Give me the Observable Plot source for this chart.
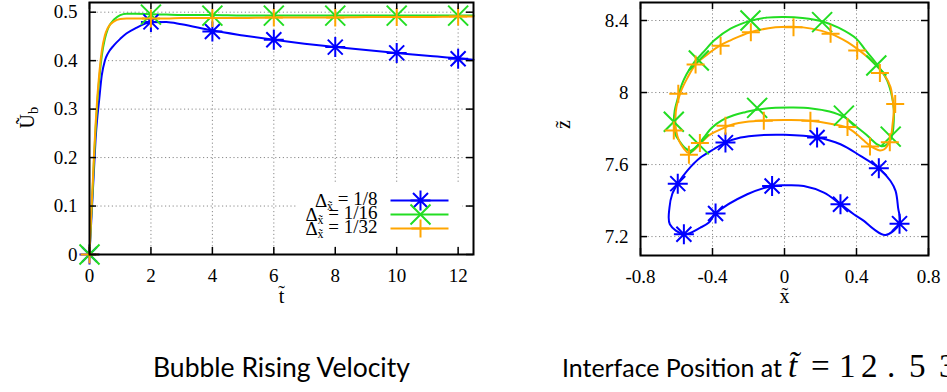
<!DOCTYPE html>
<html><head><meta charset="utf-8">
<script src="https://cdn.jsdelivr.net/npm/d3@7"></script>
<script src="https://cdn.jsdelivr.net/npm/@observablehq/plot@0.6"></script>
<style>
html,body{margin:0;padding:0;background:#fff;width:947px;height:392px;overflow:hidden;}
#wrap{position:relative;width:947px;height:392px;overflow:hidden;background:#fff;}
.abs{position:absolute;}
</style></head><body><div id="wrap"></div>
<script>
// ---------------- Left chart: bubble rising velocity ----------------
const seriesLabels = ["1/8", "1/16", "1/32"];
const tCurve = [0,0.05,0.1,0.15,0.2,0.25,0.3,0.4,0.5,0.6,0.8,1.0,1.2,1.5,2,2.5,3,4,5,6,7,8,9,10,11,12,12.5];
const u8  = [0,0.06,0.12,0.18,0.24,0.28,0.31,0.37,0.40,0.415,0.432,0.445,0.456,0.467,0.479,0.48,0.475,0.462,0.452,0.443,0.435,0.428,0.422,0.416,0.41,0.405,0.402];
const u16 = [0,0.07,0.13,0.2,0.26,0.31,0.35,0.41,0.445,0.466,0.485,0.494,0.497,0.497,0.496,0.495,0.494,0.494,0.493,0.493,0.493,0.493,0.493,0.493,0.493,0.493,0.493];
const u32 = [0,0.075,0.14,0.21,0.27,0.32,0.36,0.42,0.452,0.468,0.481,0.486,0.487,0.487,0.487,0.487,0.488,0.488,0.488,0.489,0.489,0.489,0.49,0.49,0.49,0.491,0.491];
const tMark = [0,2,4,6,8,10,12];
const u8Mark  = [0,0.48,0.46,0.443,0.428,0.416,0.404];
const u16Mark = [0,0.495,0.493,0.493,0.493,0.493,0.493];
const u32Mark = [0,0.487,0.488,0.489,0.489,0.49,0.491];
const tTicks = [0,2,4,6,8,10,12];
const uTicks = [0,0.1,0.2,0.3,0.4,0.5];

// ---------------- Right chart: interface position ----------------
const xTicks = [-0.8,-0.4,0,0.4,0.8];
const zTicks = [7.2,7.6,8,8.4];
const x8 = [-0.559,-0.637,-0.639,-0.624,-0.593,-0.541,-0.467,-0.393,-0.328,-0.244,-0.133,0,0.181,0.311,0.422,0.524,0.589,0.617,0.631,0.639,0.561,0.496,0.441,0.385,0.311,0.219,0.107,0.006,-0.069,-0.207,-0.383,-0.42,-0.467];
const z8 = [7.213,7.269,7.361,7.435,7.494,7.565,7.639,7.685,7.722,7.75,7.763,7.765,7.75,7.713,7.648,7.58,7.509,7.454,7.361,7.272,7.209,7.241,7.287,7.324,7.38,7.444,7.481,7.485,7.481,7.435,7.328,7.278,7.25];
const x16 = [0,-0.1,-0.19,-0.3,-0.39,-0.45,-0.5,-0.545,-0.57,-0.595,-0.61,-0.615,-0.605,-0.587,-0.55,-0.522,-0.485,-0.448,-0.402,-0.346,-0.282,-0.218,-0.152,-0.05,0.05,0.15,0.25,0.33,0.4,0.45,0.48,0.51,0.535,0.56,0.585,0.6,0.607,0.607,0.598,0.57,0.54,0.5,0.45,0.4,0.3,0.22,0.1];
const z16 = [8.42,8.416,8.398,8.355,8.29,8.225,8.17,8.1,8.045,7.96,7.9,7.83,7.765,7.735,7.69,7.677,7.704,7.751,7.806,7.847,7.874,7.891,7.905,7.915,7.917,7.912,7.895,7.865,7.81,7.77,7.742,7.715,7.703,7.705,7.73,7.77,7.84,7.91,7.974,8.067,8.12,8.175,8.235,8.298,8.36,8.392,8.414];
const x32 = [0.05,-0.05,-0.19,-0.3,-0.36,-0.43,-0.494,-0.54,-0.578,-0.6,-0.606,-0.602,-0.585,-0.56,-0.535,-0.51,-0.476,-0.42,-0.346,-0.28,-0.218,-0.1,0,0.1,0.2,0.3,0.348,0.4,0.441,0.475,0.5,0.53,0.555,0.575,0.592,0.6,0.607,0.6,0.589,0.56,0.52,0.47,0.417,0.35,0.259,0.15];
const z32 = [8.365,8.362,8.335,8.29,8.26,8.21,8.155,8.08,8.0,7.92,7.86,7.79,7.73,7.69,7.665,7.675,7.706,7.762,7.8,7.825,7.836,7.845,7.847,7.846,7.837,7.818,7.805,7.77,7.733,7.705,7.69,7.678,7.685,7.71,7.76,7.82,7.9,7.97,8.03,8.09,8.14,8.19,8.233,8.28,8.326,8.355];
const xm8 = [-0.559,-0.593,-0.328,0.181,0.524,0.639,0.311,-0.069,-0.383];
const zm8 = [7.213,7.494,7.722,7.75,7.58,7.272,7.38,7.481,7.328];
const xm16 = [-0.615,-0.476,-0.189,0.209,0.51,0.59,0.33,-0.152,-0.476];
const zm16 = [7.838,8.178,8.4,8.391,8.15,7.755,7.872,7.915,7.712];
const xm32 = [-0.59,-0.615,-0.531,-0.47,-0.328,-0.115,0.144,0.35,0.475,0.585,0.615,0.53,0.404,0.256,0.05,-0.187,-0.355,-0.494];
const zm32 = [7.993,7.789,7.655,7.72,7.815,7.844,7.844,7.809,7.7,7.724,7.937,8.108,8.233,8.326,8.362,8.335,8.26,8.155];

// ---------------- styles ----------------
const COLORS = {"1/8": "#0000ff", "1/16": "#22dd22", "1/32": "#ffa500"};
const SERIF = "\"Liberation Serif\", \"DejaVu Serif\", serif";
const GRID = {stroke: "#8a8a8a", strokeOpacity: 1, strokeWidth: 1, strokeDasharray: "1.2,2.6"};

// gnuplot-like point types; r given = half extent
const symPlus = {draw(c, s) {const r = Math.sqrt(s / Math.PI); c.moveTo(-r, 0); c.lineTo(r, 0); c.moveTo(0, -r); c.lineTo(0, r);}};
const symTimes = {draw(c, s) {const r = Math.sqrt(s / Math.PI); c.moveTo(-r, -r); c.lineTo(r, r); c.moveTo(-r, r); c.lineTo(r, -r);}};
const symStar = {draw(c, s) {const r = Math.sqrt(s / Math.PI), d = r * 0.75;
  c.moveTo(-r, 0); c.lineTo(r, 0); c.moveTo(0, -r); c.lineTo(0, r);
  c.moveTo(-d, -d); c.lineTo(d, d); c.moveTo(-d, d); c.lineTo(d, -d);}};
const SYMS = {"1/8": symStar, "1/16": symTimes, "1/32": symPlus};
const SYMR = {"1/8": 10, "1/16": 10, "1/32": 9};

function inwardTicks(xt, yt, W, H, len) {
  return [
    Plot.ruleX(xt, {x: d => d, insetTop: H - len, stroke: "black", strokeWidth: 1.5}),
    Plot.ruleX(xt, {x: d => d, insetBottom: H - len, stroke: "black", strokeWidth: 1.5}),
    Plot.ruleY(yt, {y: d => d, insetRight: W - len, stroke: "black", strokeWidth: 1.5}),
    Plot.ruleY(yt, {y: d => d, insetLeft: W - len, stroke: "black", strokeWidth: 1.5})
  ];
}

const wrap = document.getElementById("wrap");
function place(el, left, top) {el.classList.add("abs"); el.style.left = left + "px"; el.style.top = top + "px"; wrap.appendChild(el); return el;}
function serifAll(svg) {
  d3.select(svg).selectAll("text, tspan").style("font-family", SERIF).style("font-variant", "normal").style("font-variant-numeric", "normal");
  d3.select(svg).selectAll("g").attr("font-family", null).attr("font-variant", null);
}
const STYLE = {fontFamily: SERIF, fontSize: "19px", color: "black", background: "white"};

// ----- left plot -----
const leftCurves = [], leftMarks = [];
const uC = [u8, u16, u32], uM = [u8Mark, u16Mark, u32Mark];
seriesLabels.forEach((s, i) => {
  tCurve.forEach((t, j) => leftCurves.push({s, t, u: uC[i][j]}));
  tMark.forEach((t, j) => leftMarks.push({s, t, u: uM[i][j]}));
});
const L = {w: 480, h: 330, ml: 89, mr: 7, mt: 2, mb: 76};
const leftPlot = Plot.plot({
  width: L.w, height: L.h, marginLeft: L.ml, marginRight: L.mr, marginTop: L.mt, marginBottom: L.mb,
  style: STYLE,
  x: {domain: [0, 12.5]},
  y: {domain: [0, 0.52]},
  marks: [
    Plot.gridX(tTicks.filter(d => d > 0), GRID),
    Plot.gridY(uTicks.filter(d => d > 0), GRID),
    ...seriesLabels.map(s => Plot.line(leftCurves.filter(d => d.s === s), {x: "t", y: "u", stroke: COLORS[s], strokeWidth: 2, curve: "monotone-x"})),
    ...seriesLabels.map(s => Plot.dot(leftMarks.filter(d => d.s === s), {x: "t", y: "u", stroke: COLORS[s], strokeWidth: 2, fill: "none", symbol: SYMS[s], r: SYMR[s]})),
    Plot.axisX({ticks: tTicks, tickSize: 0, tickPadding: 14, tickFormat: d => String(d), label: null, fontSize: 19}),
    Plot.axisY({ticks: uTicks, tickSize: 0, tickPadding: 12, tickFormat: d => String(d), label: null, fontSize: 19}),
    Plot.text(["t\u0303"], {frameAnchor: "bottom", dy: 48, fontSize: 20}),
    Plot.text(["\u0168b"], {frameAnchor: "left", dx: -62, rotate: -90, fontSize: 20}),
    ...inwardTicks(tTicks, uTicks, L.w - L.ml - L.mr, L.h - L.mt - L.mb, 7),
    Plot.frame({stroke: "black", strokeWidth: 2})
  ]
});
place(leftPlot, 0, 0);

// ----- legend (white box over the left plot) -----
const legend = Plot.plot({
  width: 165, height: 63, margin: 0,
  style: STYLE,
  x: {domain: [0, 165], range: [0, 165], axis: null},
  y: {type: "point", domain: seriesLabels, range: [10, 52], axis: null},
  marks: [
    Plot.text(seriesLabels, {x: () => 80, y: d => d, text: d => "\u0394x\u0303 = " + d, textAnchor: "end", fontSize: 19}),
    ...seriesLabels.map(s => Plot.link([s], {x1: () => 93, x2: () => 151, y1: d => d, y2: d => d, stroke: COLORS[s], strokeWidth: 2})),
    ...seriesLabels.map(s => Plot.dot([s], {x: () => 123, y: d => d, stroke: COLORS[s], strokeWidth: 2, fill: "none", symbol: SYMS[s], r: SYMR[s]}))
  ]
});
place(legend, 297, 183);

// ----- right plot -----
const R = {w: 467, h: 330, ml: 160, mr: 19, mt: 2, mb: 75};
const loops = [
  {s: "1/8", xs: x8, zs: z8, mx: xm8, mz: zm8},
  {s: "1/16", xs: x16, zs: z16, mx: xm16, mz: zm16},
  {s: "1/32", xs: x32, zs: z32, mx: xm32, mz: zm32}
];
const rightPlot = Plot.plot({
  width: R.w, height: R.h, marginLeft: R.ml, marginRight: R.mr, marginTop: R.mt, marginBottom: R.mb,
  style: STYLE,
  x: {domain: [-0.8, 0.8]},
  y: {domain: [7.095, 8.5]},
  marks: [
    Plot.gridX(xTicks.filter(d => Math.abs(d) < 0.8), GRID),
    Plot.gridY(zTicks, GRID),
    ...loops.map(l => Plot.line(l.xs.map((x, i) => ({x, z: l.zs[i]})), {x: "x", y: "z", stroke: COLORS[l.s], strokeWidth: 2, curve: "catmull-rom-closed"})),
    ...loops.map(l => Plot.dot(l.mx.map((x, i) => ({x, z: l.mz[i]})), {x: "x", y: "z", stroke: COLORS[l.s], strokeWidth: 2, fill: "none", symbol: SYMS[l.s], r: SYMR[l.s]})),
    Plot.axisX({ticks: xTicks, tickSize: 0, tickPadding: 14, tickFormat: d => String(d), label: null, fontSize: 19}),
    Plot.axisY({ticks: zTicks, tickSize: 0, tickPadding: 12, tickFormat: d => String(d), label: null, fontSize: 19}),
    Plot.text(["x\u0303"], {frameAnchor: "bottom", dy: 47, fontSize: 20}),
    Plot.text(["z\u0303"], {frameAnchor: "left", dx: -77, rotate: -90, fontSize: 20}),
    ...inwardTicks(xTicks, zTicks, R.w - R.ml - R.mr, R.h - R.mt - R.mb, 7),
    Plot.frame({stroke: "black", strokeWidth: 2})
  ]
});
place(rightPlot, 480, 0);

// ----- rich text fix-ups (subscripts) -----
d3.select(leftPlot).selectAll("text").filter(function() {return this.textContent === "\u0168b";}).each(function() {
  const t = d3.select(this); t.text(null);
  t.append("tspan").text("\u0168");
  t.append("tspan").attr("dy", "0.3em").attr("font-size", "0.72em").text("b");
});
d3.select(legend).selectAll("text").each(function() {
  const txt = this.textContent; if (!txt.startsWith("\u0394")) return;
  const rest = txt.slice(txt.indexOf(" "));
  const t = d3.select(this); t.text(null);
  t.append("tspan").text("\u0394");
  t.append("tspan").attr("dy", "0.28em").attr("font-size", "0.62em").text("x\u0303");
  t.append("tspan").attr("dy", "-0.28em").text(rest);
});
[leftPlot, legend, rightPlot].forEach(serifAll);

// ----- captions -----
const NS = "http://www.w3.org/2000/svg";
const cap = document.createElementNS(NS, "svg");
cap.setAttribute("width", 947); cap.setAttribute("height", 62);
place(cap, 0, 330);
const SANS = "Lato, 'Open Sans', sans-serif";
const c1 = d3.select(cap).append("text").attr("x", 153).attr("y", 47)
  .attr("font-family", SANS).attr("font-size", 26).text("Bubble Rising Velocity");
const fs = 26 * 257 / c1.node().getComputedTextLength();
c1.attr("font-size", fs);
const c2 = d3.select(cap).append("text").attr("x", 562).attr("y", 47)
  .attr("font-family", SANS).attr("font-size", 26).text("Interface Position at");
c2.attr("font-size", 26 * 220 / c2.node().getComputedTextLength());
const g2 = d3.select(cap).append("text").attr("y", 47).attr("font-family", "\"Liberation Serif\", serif").attr("font-size", fs * 1.25);
g2.append("tspan").attr("x", 788).attr("font-style", "italic").text("t\u0303");
g2.append("tspan").attr("x", 811).text("=");
g2.append("tspan").attr("x", "839 861 887 909 939").text("12.53");
</script></body></html>
